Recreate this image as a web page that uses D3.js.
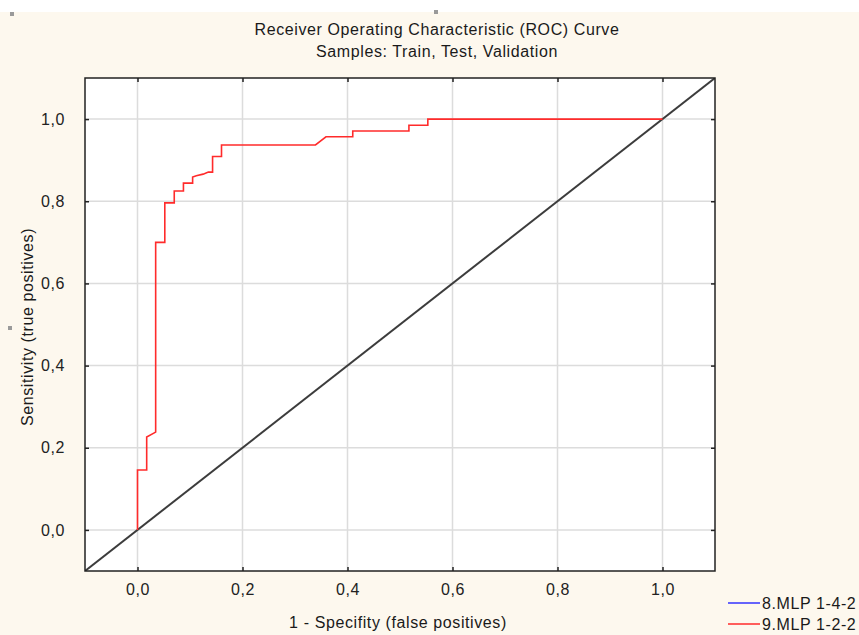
<!DOCTYPE html>
<html>
<head>
<meta charset="utf-8">
<script src="https://cdn.jsdelivr.net/npm/d3@7"></script>
<style>
  html, body { margin: 0; padding: 0; background: #ffffff; }
  svg { display: block; font-family: "Liberation Sans", Arial, sans-serif; }
  svg text { letter-spacing: 0.6px; }
</style>
</head>
<body>
<svg id="chart" width="859" height="635"></svg>
<script>
// ---- data ----
const titleLines = ["Receiver Operating Characteristic (ROC) Curve", "Samples: Train, Test, Validation"];
const xLabel = "1 - Specifity (false positives)";
const yLabel = "Sensitivity (true positives)";
const xTicks = [0, 0.2, 0.4, 0.6, 0.8, 1.0];
const yTicks = [0, 0.2, 0.4, 0.6, 0.8, 1.0];
const seriesNames = ["8.MLP 1-4-2", "9.MLP 1-2-2"];
const seriesColors = ["#3333ff", "#ff2b2b"];
// ROC curve of 9.MLP 1-2-2 (false positive rate, true positive rate)
const rocFpr = [0, 0, 0.0175, 0.0175, 0.0346, 0.0346, 0.052, 0.052, 0.070, 0.070, 0.0875, 0.0875, 0.105, 0.105, 0.112, 0.125, 0.135, 0.143, 0.143, 0.160, 0.160, 0.339, 0.359, 0.410, 0.410, 0.517, 0.517, 0.553, 0.553, 1.0];
const rocTpr = [0, 0.146, 0.146, 0.226, 0.238, 0.700, 0.700, 0.796, 0.796, 0.825, 0.825, 0.844, 0.844, 0.859, 0.862, 0.866, 0.871, 0.871, 0.909, 0.909, 0.937, 0.937, 0.957, 0.957, 0.971, 0.971, 0.985, 0.985, 1.0, 1.0];
const diagonal = [-0.1, 1.1];

// ---- drawing ----
const svg = d3.select("#chart");
const W = 859, H = 635;
const pL = 85, pR = 715, pT = 78, pB = 571;
const FS = "16px";

svg.append("rect").attr("x", 0).attr("y", 0).attr("width", W).attr("height", H).attr("fill", "#ffffff");
svg.append("rect").attr("x", 0).attr("y", 12).attr("width", W).attr("height", H - 12).attr("fill", "#fdf8ee");
// small selection handles seen in the reference
[[10, 12], [434, 10], [8, 326]].forEach(p => {
  svg.append("rect").attr("x", p[0]).attr("y", p[1]).attr("width", 4).attr("height", 4).attr("fill", "#9a9a9a");
});

const x = d3.scaleLinear().domain([-0.1, 1.1]).range([pL, pR]);
const y = d3.scaleLinear().domain([-0.1, 1.1]).range([pB, pT]);

svg.append("rect").attr("x", pL).attr("y", pT).attr("width", pR - pL).attr("height", pB - pT).attr("fill", "#ffffff");

// grid
const grid = svg.append("g");
grid.selectAll(".gx").data(xTicks).join("line")
  .attr("x1", d => x(d)).attr("x2", d => x(d)).attr("y1", pT).attr("y2", pB)
  .attr("stroke", "#dcdcdc").attr("stroke-width", 1.5);
grid.selectAll(".gy").data(yTicks).join("line")
  .attr("y1", d => y(d)).attr("y2", d => y(d)).attr("x1", pL).attr("x2", pR)
  .attr("stroke", "#dcdcdc").attr("stroke-width", 1.5);

svg.append("clipPath").attr("id", "clip").append("rect")
  .attr("x", pL).attr("y", pT).attr("width", pR - pL).attr("height", pB - pT);
const plot = svg.append("g").attr("clip-path", "url(#clip)");

// diagonal reference line
plot.append("line")
  .attr("x1", x(diagonal[0])).attr("y1", y(diagonal[0]))
  .attr("x2", x(diagonal[1])).attr("y2", y(diagonal[1]))
  .attr("stroke", "#3c3c3c").attr("stroke-width", 2);

// ROC curve
const line = d3.line().x(d => x(d[0])).y(d => y(d[1]));
plot.append("path")
  .datum(rocFpr.map((f, i) => [f, rocTpr[i]]))
  .attr("d", line).attr("fill", "none")
  .attr("stroke", seriesColors[1]).attr("stroke-width", 1.6);

// axes
const fmt = d => d3.format(".1f")(d).replace(".", ",");
const axStyle = g => {
  g.select(".domain").remove();
  g.selectAll(".tick line").attr("stroke", "#222").attr("stroke-width", 1.5);
  g.selectAll("text").attr("fill", "#222").style("font-size", FS).style("font-family", "'Liberation Sans', Arial, sans-serif");
};
svg.append("g").attr("transform", `translate(0,${pB})`)
  .call(d3.axisBottom(x).tickValues(xTicks).tickFormat(fmt).tickSizeInner(-4).tickSizeOuter(0).tickPadding(13))
  .call(axStyle);
svg.append("g").attr("transform", `translate(0,${pT})`)
  .call(d3.axisTop(x).tickValues(xTicks).tickFormat("").tickSizeInner(-4).tickSizeOuter(0))
  .call(axStyle);
svg.append("g").attr("transform", `translate(${pL},0)`)
  .call(d3.axisLeft(y).tickValues(yTicks).tickFormat(fmt).tickSizeInner(-4).tickSizeOuter(0).tickPadding(20))
  .call(axStyle);
svg.append("g").attr("transform", `translate(${pR},0)`)
  .call(d3.axisRight(y).tickValues(yTicks).tickFormat("").tickSizeInner(-4).tickSizeOuter(0))
  .call(axStyle);

// frame
svg.append("rect").attr("x", pL).attr("y", pT).attr("width", pR - pL).attr("height", pB - pT)
  .attr("fill", "none").attr("stroke", "#222").attr("stroke-width", 1.5);

// titles
svg.selectAll(".title").data(titleLines).join("text")
  .attr("x", 437).attr("y", (d, i) => 35 + i * 22)
  .attr("text-anchor", "middle").attr("fill", "#1a1a1a").style("font-size", FS)
  .text(d => d);

svg.append("text").attr("x", 398).attr("y", 628).attr("text-anchor", "middle")
  .attr("fill", "#1a1a1a").style("font-size", FS).text(xLabel);
svg.append("text").attr("transform", "translate(33,327) rotate(-90)").attr("text-anchor", "middle")
  .attr("fill", "#1a1a1a").style("font-size", FS).text(yLabel);

// legend
const leg = svg.append("g");
seriesNames.forEach((n, i) => {
  const yy = 603 + i * 21;
  leg.append("line").attr("x1", 728).attr("x2", 760).attr("y1", yy).attr("y2", yy)
    .attr("stroke", seriesColors[i]).attr("stroke-width", 1.5);
  leg.append("text").attr("x", 762).attr("y", yy + 6).attr("fill", "#1a1a1a").style("font-size", FS).text(n);
});
</script>
</body>
</html>
